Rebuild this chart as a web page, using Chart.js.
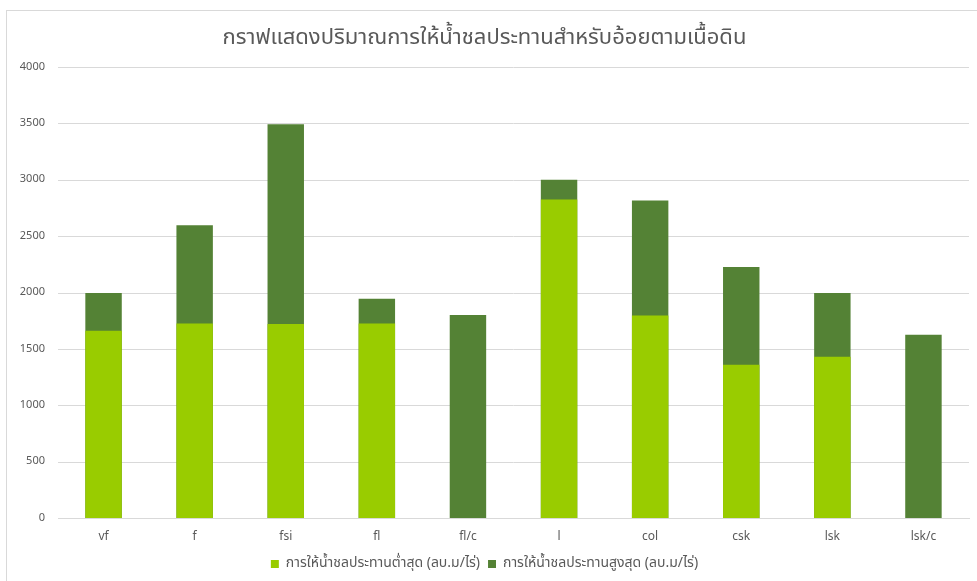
<!DOCTYPE html>
<html>
<head>
<meta charset="utf-8">
<script src="https://cdn.jsdelivr.net/npm/chart.js@4"></script>
<style>
  body { margin: 0; background: #fff; }
  #frame { position: absolute; left: 6px; top: 10px; width: 1000px; height: 600px; border: 1px solid #d9d9d9; }
  #wrap { position: absolute; left: 0; top: 0; width: 977px; height: 581px; }
</style>
</head>
<body>
<div id="frame"></div>
<div id="wrap"><canvas id="canvas"></canvas></div>
<script>
var soils = ["vf", "f", "fsi", "fl", "fl/c", "l", "col", "csk", "lsk", "lsk/c"];
var minWater = [1665, 1730, 1725, 1730, null, 2830, 1800, 1365, 1435, null];
var maxWater = [2000, 2600, 3495, 1950, 1805, 3005, 2820, 2230, 2000, 1630];
var yTicks = [0, 500, 1000, 1500, 2000, 2500, 3000, 3500, 4000];

var font = "'Noto Sans Thai', 'Noto Sans', 'DejaVu Sans', sans-serif";
Chart.defaults.font.family = font;
Chart.defaults.color = "#595959";

const ctx = document.getElementById('canvas').getContext('2d');
const myChart = new Chart(ctx, {
    type: 'bar',
    data: {
        labels: soils,
        datasets: [{
            label: 'การให้น้ำชลประทานต่ำสุด (ลบ.ม/ไร่)',
            data: minWater,
            backgroundColor: "#99cc00",
            barPercentage: 0.4,
            categoryPercentage: 1
        }, {
            label: 'การให้น้ำชลประทานสูงสุด (ลบ.ม/ไร่)',
            data: maxWater,
            backgroundColor: "#548235",
            barPercentage: 0.4,
            categoryPercentage: 1
        }]
    },
    options: {
        responsive: true,
        maintainAspectRatio: false,
        animation: false,
        layout: { padding: { left: 0, right: 8, top: 0, bottom: 0 } },
        scales: {
            x: {
                stacked: true,
                grid: { display: false },
                border: { color: "#d9d9d9" },
                ticks: { font: { size: 12 }, padding: 4, color: "#595959" }
            },
            y: {
                stacked: false,
                min: 0,
                max: 4000,
                afterBuildTicks: function(axis) {
                    axis.ticks = yTicks.map(function(v) { return { value: v }; });
                },
                afterFit: function(axis) { axis.width = 58; },
                border: { display: false },
                grid: { color: "#d9d9d9", drawTicks: false },
                ticks: {
                    font: { size: 11 }, padding: 13, color: "#595959",
                    callback: function(v) { return String(v); }
                }
            }
        },
        plugins: {
            title: {
                display: true,
                text: 'กราฟแสดงปริมาณการให้น้ำชลประทานสำหรับอ้อยตามเนื้อดิน',
                color: "#595959",
                font: { size: 22, weight: 'normal' },
                padding: { top: 26, bottom: 15 }
            },
            legend: {
                position: 'bottom',
                labels: { boxWidth: 8, boxHeight: 8, font: { size: 14 }, padding: 8, color: "#595959" }
            },
            tooltip: { enabled: false }
        }
    }
});
</script>
</body>
</html>
